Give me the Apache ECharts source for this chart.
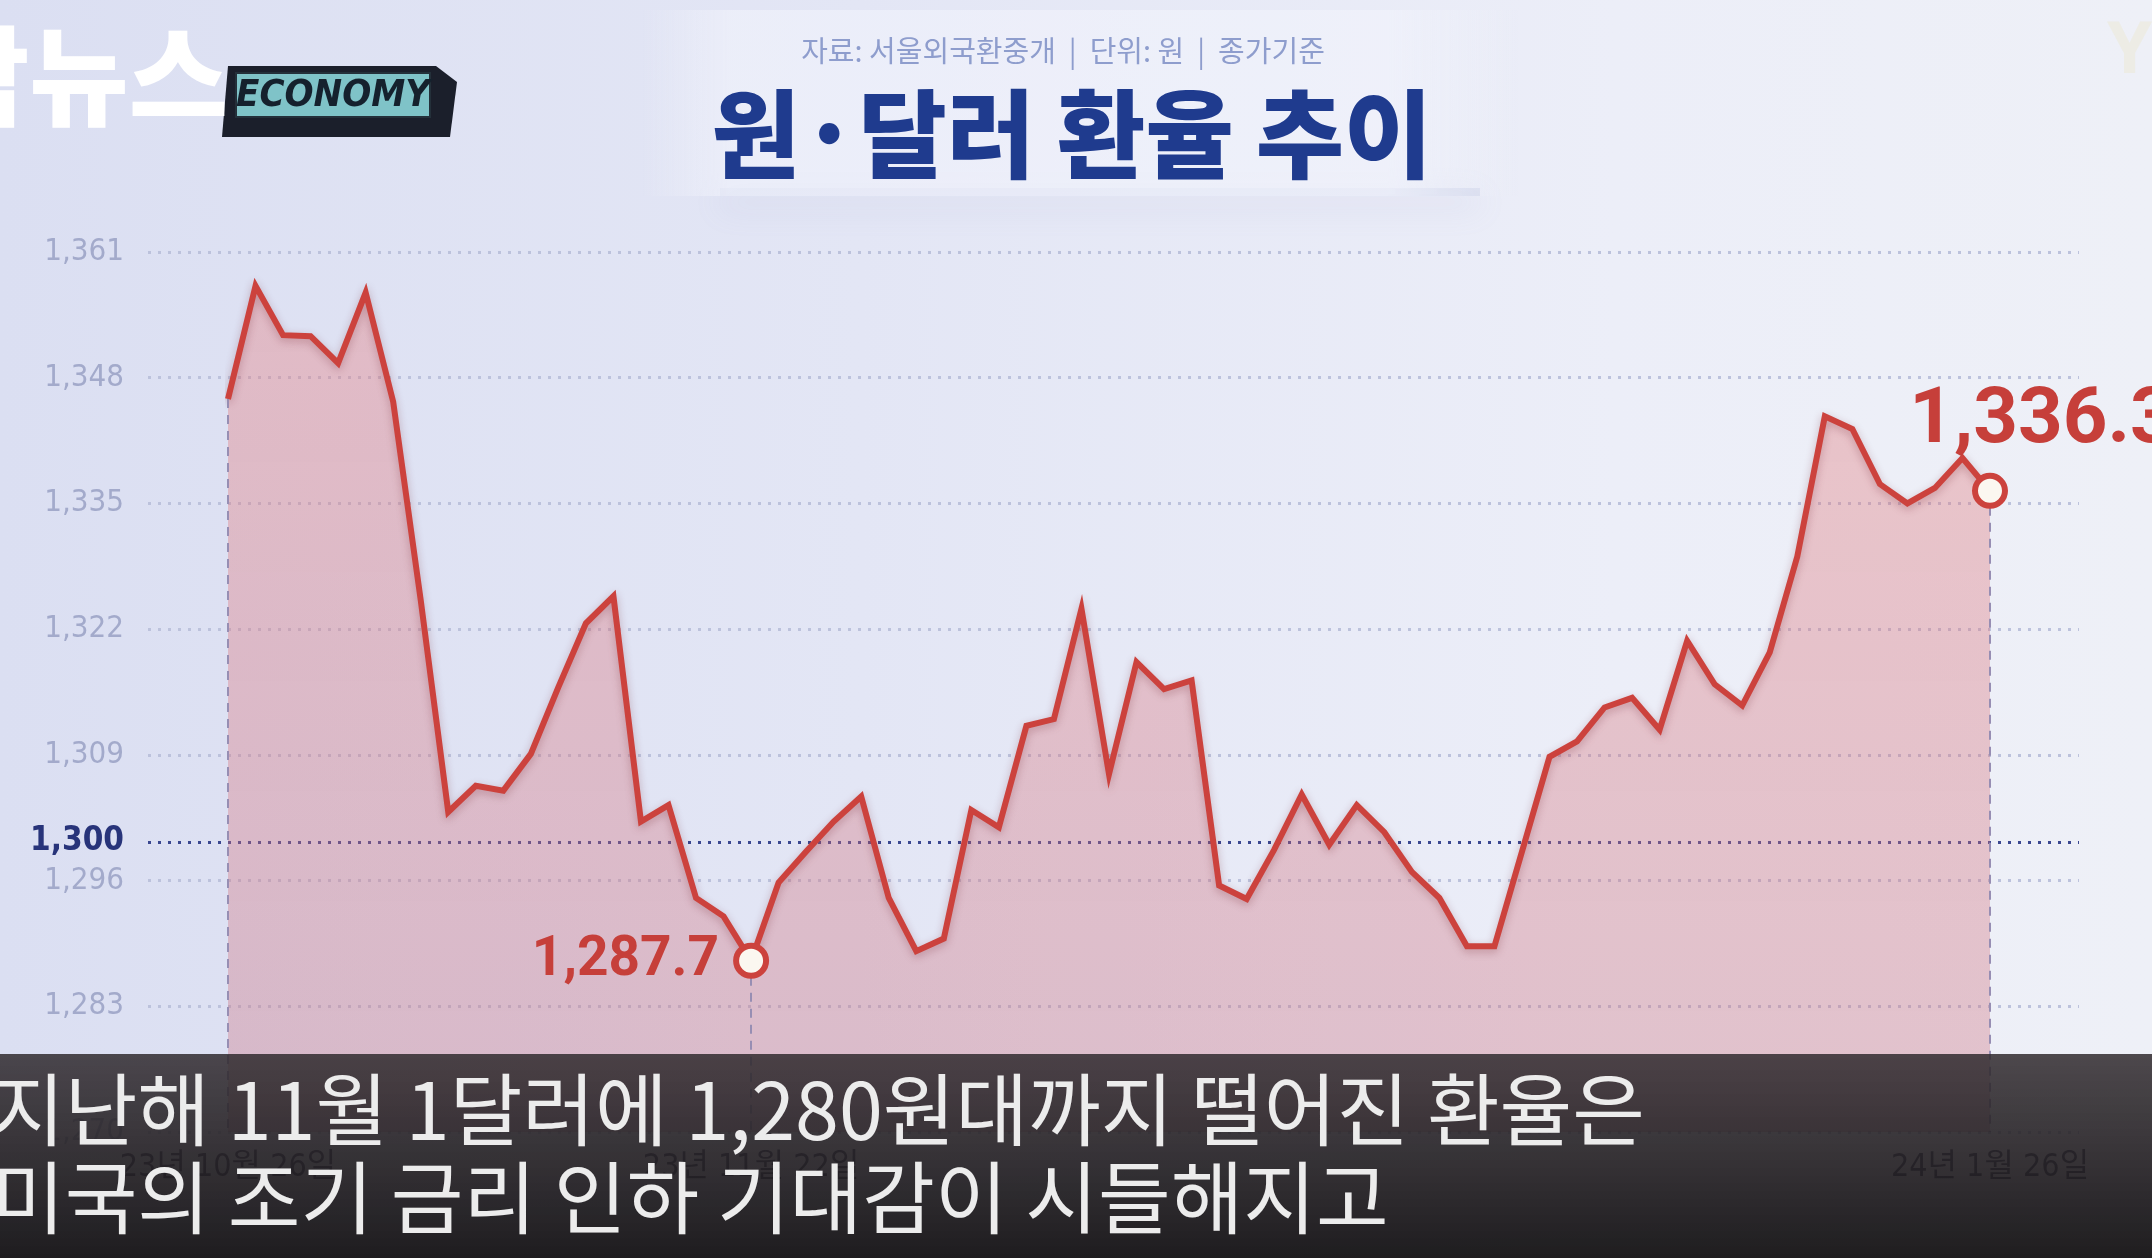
<!DOCTYPE html>
<html>
<head>
<meta charset="utf-8">
<title>원·달러 환율 추이</title>
<script src="https://cdn.jsdelivr.net/npm/echarts@6/dist/echarts.min.js"></script>
<style>
  html, body { margin: 0; padding: 0; }
  body {
    width: 2152px; height: 1258px; overflow: hidden;
    background: linear-gradient(90deg, #dbdff2 0%, #e3e6f5 40%, #eceef8 75%, #eef0f7 100%);
  }
  #chart { width: 2152px; height: 1258px; }
</style>
</head>
<body>
<div id="chart"></div>
<script>
// trading days shown on the chart
const dates = [
  '23-10-26','23-10-27','23-10-30','23-10-31','23-11-01','23-11-02','23-11-03','23-11-06',
  '23-11-07','23-11-08','23-11-09','23-11-10','23-11-13','23-11-14','23-11-15','23-11-16',
  '23-11-17','23-11-20','23-11-21','23-11-22','23-11-23','23-11-24','23-11-27','23-11-28',
  '23-11-29','23-11-30','23-12-01','23-12-04','23-12-05','23-12-06','23-12-07','23-12-08',
  '23-12-11','23-12-12','23-12-13','23-12-14','23-12-15','23-12-18','23-12-19','23-12-20',
  '23-12-21','23-12-22','23-12-26','23-12-27','23-12-28','23-12-29','24-01-02','24-01-03',
  '24-01-04','24-01-05','24-01-08','24-01-09','24-01-10','24-01-11','24-01-12','24-01-15',
  '24-01-16','24-01-17','24-01-18','24-01-19','24-01-22','24-01-23','24-01-24','24-01-25',
  '24-01-26'
];

// closing rate, won per dollar
const rates = [
  1345.8, 1357.5, 1352.4, 1352.3, 1349.5, 1356.8, 1345.5, 1325.0,
  1303.1, 1305.8, 1305.3, 1309.1, 1316.0, 1322.6, 1325.4, 1302.1,
  1303.8, 1294.2, 1292.3, 1287.7, 1295.8, 1299.0, 1302.1, 1304.7,
  1294.2, 1288.7, 1290.0, 1303.3, 1301.5, 1312.0, 1312.7, 1324.1,
  1307.0, 1318.6, 1315.8, 1316.7, 1295.5, 1294.1, 1299.2, 1304.9,
  1299.7, 1303.8, 1301.0, 1296.9, 1294.2, 1289.2, 1289.2, 1299.0,
  1308.8, 1310.4, 1313.9, 1314.9, 1311.6, 1320.8, 1316.3, 1314.1,
  1319.6, 1329.5, 1344.0, 1342.7, 1337.0, 1335.0, 1336.6, 1339.7,
  1336.3
];

const yTicks = [1270, 1283, 1296, 1300, 1309, 1322, 1335, 1348, 1361];
const refLine = 1300;
const labeledDates = ['23-10-26', '23-11-22', '24-01-26'];
const minIdx = 19;
const lastIdx = rates.length - 1;

const yMin = yTicks[0];
const yMax = yTicks[yTicks.length - 1];

const fmtDate = (d) => {
  const p = d.split('-');
  return p[0] + '년 ' + (+p[1]) + '월 ' + (+p[2]) + '일';
};
const fmtNum = (v, digits) => v.toLocaleString('en-US', { minimumFractionDigits: digits, maximumFractionDigits: digits });

const NARROW = "'Liberation Sans Narrow', 'DejaVu Sans Condensed', 'Noto Sans CJK KR', sans-serif";
const BOLDNUM = "Roboto, 'Noto Sans', sans-serif";
const KR = "'Noto Sans CJK KR', 'Noto Sans', sans-serif";
const RED = '#cc423d';

const chart = echarts.init(document.getElementById('chart'));

const option = {
  backgroundColor: 'transparent',
  animation: false,
  grid: [
    { left: 148, right: 73, top: 252, bottom: 126 },   // guide lines
    { left: 228, right: 162, top: 252, bottom: 126 }   // data
  ],
  xAxis: [
    { gridIndex: 0, type: 'value', min: 0, max: 1, show: false },
    {
      gridIndex: 1,
      type: 'category',
      data: dates,
      boundaryGap: false,
      axisLine: { show: false },
      axisTick: { show: false },
      axisLabel: {
        interval: (idx, val) => labeledDates.includes(val),
        formatter: fmtDate,
        margin: 20,
        color: '#3b3e5e',
        fontFamily: NARROW,
        fontSize: 32
      },
      splitLine: { show: false }
    }
  ],
  yAxis: [
    {
      gridIndex: 0,
      type: 'value',
      min: yMin,
      max: yMax,
      axisLine: { show: false },
      axisTick: { show: false, customValues: yTicks },
      axisLabel: {
        customValues: yTicks,
        margin: 24,
        formatter: (v) => v === refLine ? '{hl|' + fmtNum(v, 0) + '}' : '{n|' + fmtNum(v, 0) + '}',
        rich: {
          n: { color: '#a3aacb', fontFamily: NARROW, fontSize: 31 },
          hl: { color: '#28347a', fontFamily: NARROW, fontSize: 33, fontWeight: 'bold' }
        }
      },
      splitLine: {
        show: true,
        lineStyle: {
          color: yTicks.map(v => v === refLine ? '#3a4790' : '#bcc2dc'),
          width: 3,
          type: [3, 7]
        }
      }
    },
    { gridIndex: 1, type: 'value', min: yMin, max: yMax, show: false }
  ],
  series: [
    {
      name: '원·달러 환율',
      type: 'line',
      xAxisIndex: 1,
      yAxisIndex: 1,
      data: rates,
      symbol: 'none',
      lineStyle: {
        color: RED,
        width: 6,
        join: 'miter',
        shadowColor: 'rgba(110,30,40,0.3)',
        shadowBlur: 8,
        shadowOffsetY: 3
      },
      areaStyle: {
        origin: 'start',
        color: new echarts.graphic.LinearGradient(0, 0, 0, 1, [
          { offset: 0, color: 'rgba(232,120,120,0.52)' },
          { offset: 1, color: 'rgba(200,105,120,0.48)' }
        ])
      },
      markLine: {
        silent: true,
        symbol: 'none',
        label: { show: false },
        lineStyle: { color: '#978eb3', width: 2, type: [9, 7] },
        data: [0, minIdx, lastIdx].map(i => [
          { coord: [dates[i], rates[i]] },
          { coord: [dates[i], yMin] }
        ])
      },
      markPoint: {
        silent: true,
        symbol: 'circle',
        symbolSize: 30,
        itemStyle: { color: '#fbf7f0', borderColor: RED, borderWidth: 6 },
        label: {
          color: '#c63f3a',
          fontFamily: BOLDNUM,
          fontWeight: 'bold',
          formatter: (p) => fmtNum(p.value, 1)
        },
        data: [
          {
            coord: [dates[minIdx], rates[minIdx]],
            value: rates[minIdx],
            label: { position: 'left', distance: 14, fontSize: 55 }
          },
          {
            coord: [dates[lastIdx], rates[lastIdx]],
            value: rates[lastIdx],
            label: { position: 'inside', offset: [52, -68], fontSize: 78 }
          }
        ]
      },
      z: 3
    }
  ],
  graphic: [
    // title panel and its soft shadow
    {
      type: 'rect', z: 1, silent: true,
      shape: { x: 720, y: 188, width: 760, height: 8 },
      style: { fill: 'rgba(170,178,216,0.3)', shadowBlur: 30, shadowColor: 'rgba(150,160,205,0.75)', shadowOffsetY: 10 }
    },
    {
      type: 'rect', z: 2, silent: true,
      shape: { x: 640, y: 10, width: 880, height: 186 },
      style: {
        fill: new echarts.graphic.LinearGradient(0, 0, 1, 0, [
          { offset: 0, color: 'rgba(238,240,250,0)' },
          { offset: 0.1, color: 'rgba(238,240,250,0.75)' },
          { offset: 0.85, color: 'rgba(240,242,251,0.75)' },
          { offset: 1, color: 'rgba(240,242,250,0)' }
        ])
      }
    },
    {
      type: 'text', z: 5, silent: true,
      style: {
        x: 1063, y: 51, text: '자료: 서울외국환중개  |  단위: 원  |  종가기준',
        align: 'center', verticalAlign: 'middle',
        fill: '#8e9dcd', font: "400 29px " + KR
      }
    },
    {
      type: 'text', z: 5, silent: true,
      style: {
        x: 1072, y: 134, text: '원·달러 환율 추이',
        align: 'center', verticalAlign: 'middle',
        fill: '#1f3b8e', font: "900 96px " + KR
      }
    },
    // channel logo
    {
      type: 'polygon', z: 5, silent: true,
      shape: { points: [[228, 66], [436, 66], [457, 82], [450, 137], [222, 137]] },
      style: { fill: '#1b1f2b' }
    },
    {
      type: 'rect', z: 6, silent: true,
      shape: { x: 236, y: 73, width: 194, height: 44 },
      style: { fill: '#7fc3c8', stroke: '#24303a', lineWidth: 2 }
    },
    {
      type: 'text', z: 7, silent: true,
      style: {
        x: 333, y: 96, text: 'ECONOMY', align: 'center', verticalAlign: 'middle',
        fill: '#15212d', font: "italic bold 38px 'Liberation Sans Narrow', 'DejaVu Sans Condensed', sans-serif"
      }
    },
    {
      type: 'text', z: 6, silent: true,
      style: {
        x: 228, y: 76, text: '막뉴스', align: 'right', verticalAlign: 'middle',
        fill: '#ffffff', font: "900 108px " + KR,
        textShadowColor: '#1a1e2c', textShadowOffsetX: -7, textShadowOffsetY: 10, textShadowBlur: 0
      }
    },
    {
      type: 'text', z: 5, silent: true,
      style: {
        x: 2152, y: 52, text: 'Y', align: 'right', verticalAlign: 'middle',
        fill: 'rgba(236,228,188,0.3)', font: "bold 72px 'Noto Sans', sans-serif"
      }
    },
    // caption band
    {
      type: 'rect', z: 100, silent: true,
      shape: { x: 0, y: 1054, width: 2152, height: 204 },
      style: {
        fill: new echarts.graphic.LinearGradient(0, 0, 0, 1, [
          { offset: 0, color: 'rgba(50,44,48,0.86)' },
          { offset: 1, color: 'rgba(22,20,22,0.96)' }
        ])
      }
    },
    {
      type: 'text', z: 101, silent: true,
      style: {
        x: -8, y: 1110, text: '지난해 11월 1달러에 1,280원대까지 떨어진 환율은',
        verticalAlign: 'middle', fill: '#ececec', font: "400 79px " + KR
      }
    },
    {
      type: 'text', z: 101, silent: true,
      style: {
        x: -8, y: 1198, text: '미국의 조기 금리 인하 기대감이 시들해지고',
        verticalAlign: 'middle', fill: '#ececec', font: "400 79px " + KR
      }
    }
  ]
};

chart.setOption(option);
</script>
</body>
</html>
